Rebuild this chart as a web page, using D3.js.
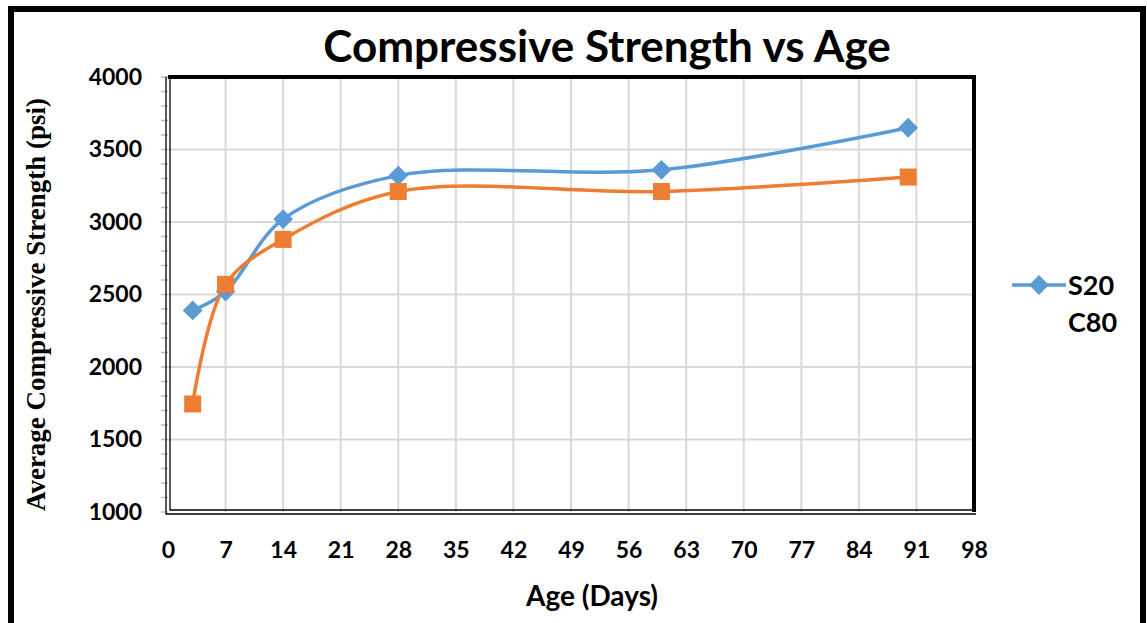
<!DOCTYPE html>
<html>
<head>
<meta charset="utf-8">
<script src="https://cdn.jsdelivr.net/npm/d3@7"></script>
<style>
  body { margin: 0; background: #fff; }
  svg text { font-family: Lato, "Open Sans", sans-serif; font-weight: bold; fill: #000; }
</style>
</head>
<body>
<svg id="chart" width="1147" height="623"></svg>
<script>
// data
var ages = [3, 7, 14, 28, 60, 90];
var s20 = [2390, 2520, 3020, 3320, 3360, 3650];
var c80 = [1745, 2570, 2880, 3210, 3210, 3310];
var xTicks = [0, 7, 14, 21, 28, 35, 42, 49, 56, 63, 70, 77, 84, 91, 98];
var yTicks = [1000, 1500, 2000, 2500, 3000, 3500, 4000];

var svg = d3.select("#chart"),
  width = +svg.attr("width"),
  height = +svg.attr("height");

var margin = { top: 77, right: 173, bottom: 111, left: 168 };
var plotW = width - margin.left - margin.right,
  plotH = height - margin.top - margin.bottom;

var x = d3.scaleLinear().domain([0, 98]).range([0, plotW]);
var y = d3.scaleLinear().domain([1000, 4000]).range([plotH, 0]);

// outer frame (bottom edge is cut off in the picture)
svg.append("path")
  .attr("d", "M11,623 V9 H1143 V623")
  .attr("fill", "none")
  .attr("stroke", "#000")
  .attr("stroke-width", 6);

var g = svg.append("g")
  .attr("transform", "translate(" + margin.left + "," + margin.top + ")");

// gridlines
g.append("g").selectAll("line")
  .data(xTicks.slice(1))
  .enter().append("line")
  .attr("x1", d => x(d)).attr("x2", d => x(d))
  .attr("y1", 0).attr("y2", plotH)
  .attr("stroke", "#d9d9d9").attr("stroke-width", 2);

g.append("g").selectAll("line")
  .data(yTicks.slice(1))
  .enter().append("line")
  .attr("x1", 0).attr("x2", plotW)
  .attr("y1", d => y(d)).attr("y2", d => y(d))
  .attr("stroke", "#d9d9d9").attr("stroke-width", 2);

// minor ticks on the y axis
g.append("g").selectAll("line")
  .data(d3.range(1000, 4001, 100))
  .enter().append("line")
  .attr("x1", -7).attr("x2", 0)
  .attr("y1", d => y(d)).attr("y2", d => y(d))
  .attr("stroke", "#bfbfbf").attr("stroke-width", 1.5);

// plot border: thick top/right, double left/bottom
g.append("path")
  .attr("d", "M0,0 H" + plotW + " V" + plotH)
  .attr("fill", "none").attr("stroke", "#000").attr("stroke-width", 4);
g.append("path")
  .attr("d", "M-2,0 V" + (plotH + 2) + " H" + (plotW + 2))
  .attr("fill", "none").attr("stroke", "#000").attr("stroke-width", 1.3);
g.append("path")
  .attr("d", "M2,2 V" + (plotH - 2) + " H" + plotW)
  .attr("fill", "none").attr("stroke", "#000").attr("stroke-width", 1.3);

// axis labels via d3 axes
var xAxis = d3.axisBottom(x).tickValues(xTicks).tickSize(0).tickPadding(30);
var yAxis = d3.axisLeft(y).tickValues(yTicks).tickSize(0).tickPadding(26).tickFormat(d3.format("d"));

g.append("g")
  .attr("transform", "translate(0," + plotH + ")")
  .call(xAxis)
  .call(a => a.select(".domain").remove())
  .selectAll("text")
  .style("font-size", "23px");

g.append("g")
  .call(yAxis)
  .call(a => a.select(".domain").remove())
  .selectAll("text")
  .style("font-size", "23px");

// series
var line = d3.line()
  .x(d => x(d[0]))
  .y(d => y(d[1]))
  .curve(d3.curveCatmullRom.alpha(0.5));

var blue = "#5b9bd5", orange = "#ed7d31";

var s20Pts = d3.zip(ages, s20), c80Pts = d3.zip(ages, c80);

g.append("path").datum(s20Pts)
  .attr("d", line).attr("fill", "none")
  .attr("stroke", blue).attr("stroke-width", 3.5);

g.append("path").datum(c80Pts)
  .attr("d", line).attr("fill", "none")
  .attr("stroke", orange).attr("stroke-width", 3.5);

var diamond = d3.symbol().type(d3.symbolDiamond2).size(250);

g.selectAll(".s20pt").data(s20Pts)
  .enter().append("path")
  .attr("class", "s20pt")
  .attr("d", diamond)
  .attr("transform", d => "translate(" + x(d[0]) + "," + y(d[1]) + ")")
  .attr("fill", blue);

g.selectAll(".c80pt").data(c80Pts)
  .enter().append("rect")
  .attr("class", "c80pt")
  .attr("x", d => x(d[0]) - 8.5).attr("y", d => y(d[1]) - 8.5)
  .attr("width", 17).attr("height", 17)
  .attr("fill", orange);

// titles
svg.append("text")
  .attr("x", 607).attr("y", 62)
  .attr("text-anchor", "middle")
  .style("font-size", "44px")
  .text("Compressive Strength vs Age");

svg.append("text")
  .attr("x", 592).attr("y", 606)
  .attr("text-anchor", "middle")
  .style("font-size", "28px")
  .text("Age (Days)");

svg.append("text")
  .attr("transform", "translate(45," + (margin.top + plotH / 2 + 10) + ") rotate(-90)")
  .attr("text-anchor", "middle")
  .style("font-family", "'Liberation Serif', 'DejaVu Serif', serif")
  .style("font-size", "27px")
  .text("Average Compressive Strength (psi)");

// legend
var leg = svg.append("g").attr("transform", "translate(1012,285)");
leg.append("line")
  .attr("x1", 0).attr("x2", 54)
  .attr("stroke", blue).attr("stroke-width", 3.5);
leg.append("path")
  .attr("d", diamond)
  .attr("transform", "translate(27,0)")
  .attr("fill", blue);
leg.append("text")
  .attr("x", 56).attr("y", 10)
  .style("font-size", "27px")
  .text("S20");
leg.append("text")
  .attr("x", 56).attr("y", 47)
  .style("font-size", "27px")
  .text("C80");
</script>
</body>
</html>
